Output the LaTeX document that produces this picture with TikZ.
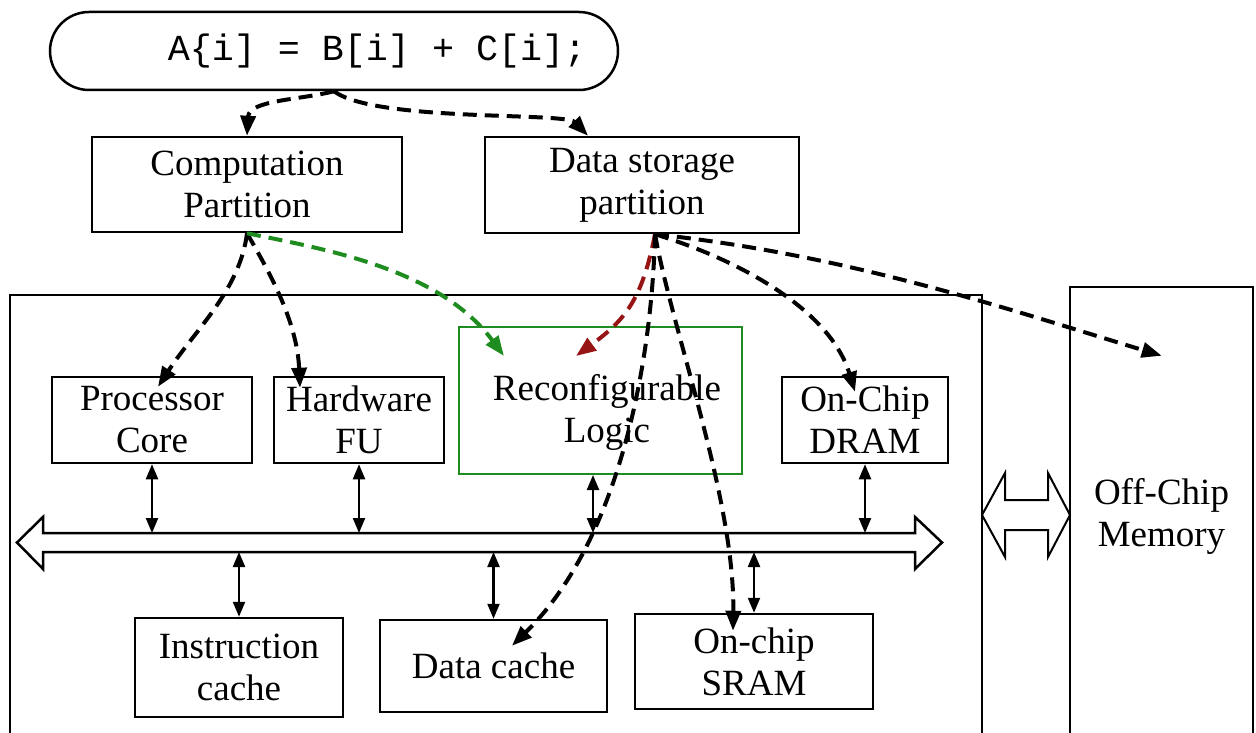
\documentclass[tikz,border=0pt]{standalone}
\usepackage{fontspec}
\setmainfont{Liberation Serif}
\newfontfamily\codefont{Liberation Mono}
\usetikzlibrary{arrows.meta,calc}
\definecolor{grn}{RGB}{30,140,30}
\definecolor{dred}{RGB}{150,20,20}
\begin{document}
\begin{tikzpicture}[x=1pt,y=-1pt,
  box/.style={draw, line width=2.5pt, align=center, inner sep=0pt, font=\fontsize{37}{42}\selectfont},
  dsh/.style={line width=4pt, dash pattern=on 14pt off 8pt, -{Triangle[length=20pt,width=15pt]}},
  bi/.style={line width=2.2pt, {Triangle[length=15pt,width=12pt]}-{Triangle[length=15pt,width=12pt]}},
  big/.style={draw, line width=2.5pt, fill=white, line join=miter}]
\useasboundingbox (0,0) rectangle (1256,733);
% code statement
\node[draw, line width=2.5pt, rounded corners=39pt, minimum width=568pt, minimum height=78pt, inner sep=0pt] (code) at (334,51)
  {\codefont\fontsize{36.7}{40}\selectfont\hspace*{86pt}A\{i] = B[i] + C[i];};
% partitions
\node[box, minimum width=310pt, minimum height=95pt] (comp) at (247,184.5) {Computation\\Partition};
\node[box, minimum width=314pt, minimum height=96pt] (stor) at (642,185) {Data storage\\partition};
% chip outline
\draw[line width=2.5pt] (10,745) -- (10,295) -- (982,295) -- (982,745);
\node[box, minimum width=183pt, minimum height=458pt] (off) at (1161.5,516) {Off-Chip\\Memory};
% top row
\node[box, minimum width=200pt, minimum height=86pt] (pc) at (152,420) {Processor\\Core};
\node[box, minimum width=170pt, minimum height=86pt] (hw) at (359,420) {Hardware\\FU};
\node[draw=grn, line width=2pt, minimum width=283pt, minimum height=147pt, inner sep=0pt] (rl) at (600.5,400.5) {};
\node[align=center, inner sep=0pt, font=\fontsize{37}{42}\selectfont] (rltxt) at (607,412) {Reconfigurable\\Logic};
\node[box, minimum width=166pt, minimum height=86pt] (dram) at (865,420) {On-Chip\\DRAM};
% bottom row
\node[box, minimum width=208pt, minimum height=99pt] (ic) at (239,667.5) {Instruction\\cache};
\node[box, minimum width=227pt, minimum height=92pt] (dc) at (493.5,666) {Data cache};
\node[box, minimum width=238pt, minimum height=95pt] (sram) at (754,661.5) {On-chip\\SRAM};
% bus
\draw[big] (17,542.5) -- (43,517) -- (43,533) -- (915,533) -- (915,517) -- (942,542.5) -- (915,569) -- (915,552) -- (43,552) -- (43,569) -- cycle;
\coordinate (bt) at (0,533);
\coordinate (bb) at (0,552);
\draw[bi] (pc.south) -- (pc.south |- bt);
\draw[bi] (hw.south) -- (hw.south |- bt);
\draw[bi] ([xshift=-7.5pt]rl.south) -- ([xshift=-7.5pt]rl.south |- bt);
\draw[bi] (dram.south) -- (dram.south |- bt);
\draw[bi] (ic.north) -- (ic.north |- bb);
\draw[bi] (dc.north) -- (dc.north |- bb);
\draw[bi] (sram.north) -- (sram.north |- bb);
% off-chip link
\draw[big, line width=2pt] (982,515) -- (1005,473) -- (1005,500) -- (1048,500) -- (1048,473) -- (1070,515) -- (1048,557) -- (1048,530) -- (1005,530) -- (1005,557) -- cycle;
% dashed mapping arrows
\draw[dsh] (code.south) .. controls (300,100) and (249,100) .. (comp.north);
\draw[dsh] (code.south) .. controls (375,122) and (565,112) .. ($(stor.north)+(-54,0)$);
\draw[dsh] (comp.south) .. controls (240,290) and (195,330) .. ($(pc.north)+(6,11)$);
\draw[dsh] (comp.south) .. controls (268,270) and (297,320) .. ($(hw.north)+(-59,12)$);
\draw[dsh, color=grn] (comp.south) .. controls (330,250) and (440,270) .. ($(rl.north west)+(46,30)$);
\coordinate (s0) at ($(stor.south)+(13,0)$);
\draw[dsh, color=dred] (s0) .. controls (642,300) and (625,320) .. ($(rl.north west)+(118,30)$);
\draw[dsh] (s0) .. controls (652,360) and (620,540) .. ($(dc.north)+(18.5,27)$);
\draw[dsh] (s0) .. controls (672,330) and (735,500) .. ($(sram.north)+(-21,18)$);
\draw[dsh] (s0) .. controls (740,260) and (830,310) .. ($(dram.north)+(-10,16)$);
\draw[dsh] (s0) .. controls (850,255) and (1010,310) .. ($(off.north west)+(93,70)$);
\end{tikzpicture}
\end{document}
